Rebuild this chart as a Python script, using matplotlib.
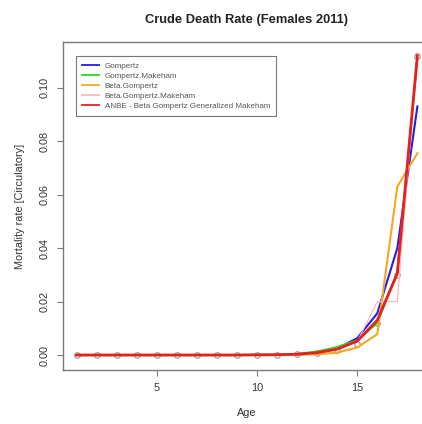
import matplotlib

matplotlib.use("Agg")
import matplotlib.pyplot as plt
import numpy as np

plt.rcParams["font.family"] = ["Liberation Sans", "DejaVu Sans"]

# ----- data ------------------------------------------------------------------
ages = np.arange(1, 19)
observed = [0, 0, 0, 0, 0, 0, 0, 0, 0, 0, 0.0001, 0.0002, 0.0008, 0.002,
            0.0042, 0.012, 0.030, 0.112]
gompertz = [0, 0, 0, 0, 0, 0, 0, 0, 0, 0.00005, 0.0001, 0.0003, 0.0008,
            0.0025, 0.0063, 0.0156, 0.040, 0.093]
gompertz_makeham = [0, 0, 0, 0, 0, 0, 0, 0, 0, 0.00005, 0.0001, 0.0004,
                    0.0013, 0.003, 0.0055, 0.012, 0.031, 0.111]
beta_gompertz = [0, 0, 0, 0, 0, 0, 0, 0, 0, 0, 0.00005, 0.0001, 0.0003,
                 0.0009, 0.0028, 0.0078, 0.063, 0.0755]
beta_gompertz_makeham = [0, 0, 0, 0, 0, 0, 0, 0, 0, 0.00005, 0.0001, 0.0003,
                         0.0009, 0.0024, 0.005, 0.020, 0.020, 0.113]
anbe = [0, 0, 0, 0, 0, 0, 0, 0, 0, 0.00005, 0.0001, 0.0003, 0.0009, 0.0022,
        0.0052, 0.013, 0.0305, 0.112]

legend_labels = [
    "Gompertz",
    "Gompertz.Makeham",
    "Beta.Gompertz",
    "Beta.Gompertz.Makeham",
    "ANBE - Beta Gompertz Generalized Makeham",
]

FS = 7.8

fig = plt.figure(figsize=(4.22, 4.24), dpi=100)
ax = fig.add_axes([63 / 422, 54 / 424, 368 / 422, 328 / 424])

ax.plot(ages, observed, "o", mfc="none", mec="#a0a0a0", ms=4, mew=0.9, zorder=2)
ax.plot(ages, gompertz, color="#1f1fe8", lw=1.5, label=legend_labels[0], zorder=3)
ax.plot(ages, gompertz_makeham, color="#22dd22", lw=1.5, label=legend_labels[1], zorder=3)
ax.plot(ages, beta_gompertz, color="#f5a623", lw=1.5, label=legend_labels[2], zorder=3)
ax.plot(ages, beta_gompertz_makeham, color="#f5b8c4", lw=0.9, label=legend_labels[3], zorder=4)
ax.plot(ages, anbe, color="#e8201c", lw=2.0, label=legend_labels[4], zorder=5)

ax.set_xlim(0.32, 18.68)
ax.set_ylim(-0.0056, 0.1171)
ax.set_xticks([5, 10, 15])
ax.set_yticks([0.0, 0.02, 0.04, 0.06, 0.08, 0.10])
ax.set_yticklabels(["0.00", "0.02", "0.04", "0.06", "0.08", "0.10"],
                   rotation=90, va="center")

for sp in ax.spines.values():
    sp.set_color("#7a7a7a")
    sp.set_linewidth(1.0)
ax.tick_params(direction="out", length=4.3, width=0.8, color="#7a7a7a",
               labelsize=FS, labelcolor="#333333", pad=5)

ax.set_xlabel("Age", fontsize=FS, color="#333333", labelpad=11)
ax.set_ylabel("Mortality rate [Circulatory]", fontsize=FS, color="#333333", labelpad=11)
fig.text(0.583, 0.953, "Crude Death Rate (Females 2011)", ha="center", va="center",
         fontsize=9.3, fontweight="bold", color="#222222")

leg = ax.legend(loc="upper left", bbox_to_anchor=(0.035, 0.957), fontsize=5.75,
                frameon=True, fancybox=False, handlelength=2.1, handletextpad=0.7,
                borderpad=0.8, labelspacing=0.3, borderaxespad=0)
leg.get_frame().set_edgecolor("#555555")
leg.get_frame().set_linewidth(0.8)
for line in leg.get_lines():
    line.set_linewidth(1.3)
for t in leg.get_texts():
    t.set_color("#555555")

fig.savefig("out.png", dpi=100)
